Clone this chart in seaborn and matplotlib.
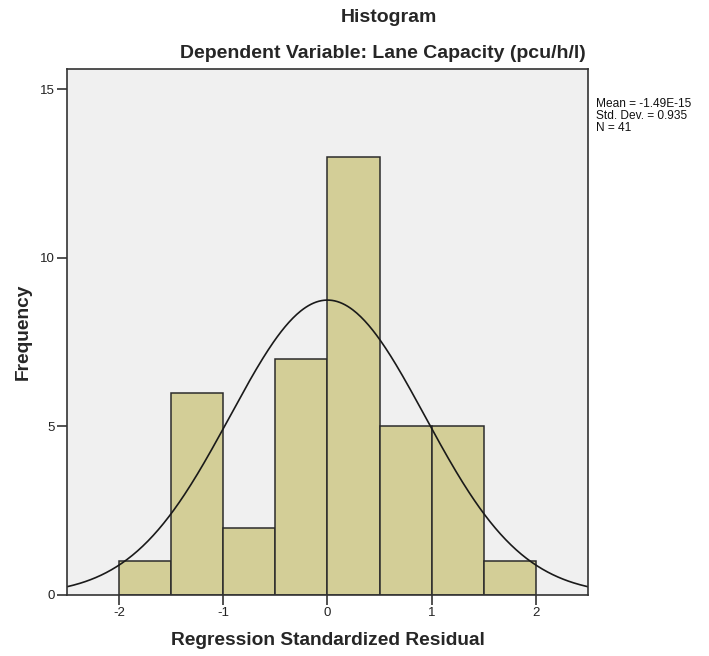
import numpy as np
import pandas as pd
import matplotlib
matplotlib.use("Agg")
import matplotlib.pyplot as plt
import seaborn as sns

# Histogram of regression standardized residuals
bin_edges = [-2.0, -1.5, -1.0, -0.5, 0.0, 0.5, 1.0, 1.5, 2.0]
bin_centers = [-1.75, -1.25, -0.75, -0.25, 0.25, 0.75, 1.25, 1.75]
frequencies = [1, 6, 2, 7, 13, 5, 5, 1]

# Summary statistics of the residuals
mean_val = -1.49e-15
std_dev = 0.935
n_obs = 41
bin_width = 0.5

x_ticks = [-2, -1, 0, 1, 2]
y_ticks = [0, 5, 10, 15]

sns.set_theme(style="white")
plt.rcParams["font.family"] = ["Liberation Sans", "DejaVu Sans"]

fig = plt.figure(figsize=(7.09, 6.56), dpi=100)
ax = fig.add_axes([0.0945, 0.093, 0.7348, 0.8018])
ax.set_facecolor("#F0F0F0")

df = pd.DataFrame({"resid": bin_centers, "freq": frequencies})
sns.histplot(data=df, x="resid", weights="freq", bins=bin_edges, ax=ax,
             color="#D3CE97", edgecolor="#2b2b2b", linewidth=1.1, alpha=1.0)

# Normal curve scaled to counts
xs = np.linspace(-2.5, 2.5, 400)
ys = n_obs * bin_width / (std_dev * np.sqrt(2 * np.pi)) * np.exp(-0.5 * ((xs - mean_val) / std_dev) ** 2)
sns.lineplot(x=xs, y=ys, ax=ax, color="#1a1a1a", linewidth=1.2)

ax.set_xlim(-2.5, 2.5)
ax.set_ylim(0, 15.6)
ax.set_xticks(x_ticks)
ax.set_xticklabels([str(t) for t in x_ticks])
ax.set_yticks(y_ticks)
ax.set_yticklabels([str(t) for t in y_ticks])
ax.tick_params(axis="both", direction="out", length=7, width=1.2, color="#333333",
               labelsize=9.5, labelcolor="#222222", bottom=True, left=True, pad=2)
for s in ax.spines.values():
    s.set_color("#333333")
    s.set_linewidth(1.2)

ax.set_xlabel("Regression Standardized Residual", fontsize=13.8, fontweight="bold", labelpad=9)
ax.set_ylabel("Frequency", fontsize=13.8, fontweight="bold", labelpad=6)

fig.text(389 / 709, 1 - 17 / 656, "Histogram", ha="center", va="center",
         fontsize=14, fontweight="bold")
fig.text(383 / 709, 1 - 53 / 656, "Dependent Variable: Lane Capacity (pcu/h/l)",
         ha="center", va="center", fontsize=14, fontweight="bold")

fig.text(596 / 709, 1 - 98 / 656,
         "Mean = -1.49E-15\nStd. Dev. = 0.935\nN = 41",
         ha="left", va="top", fontsize=8.6, linespacing=1.0, color="#111111")

fig.savefig("out.png", dpi=100, facecolor="white")
